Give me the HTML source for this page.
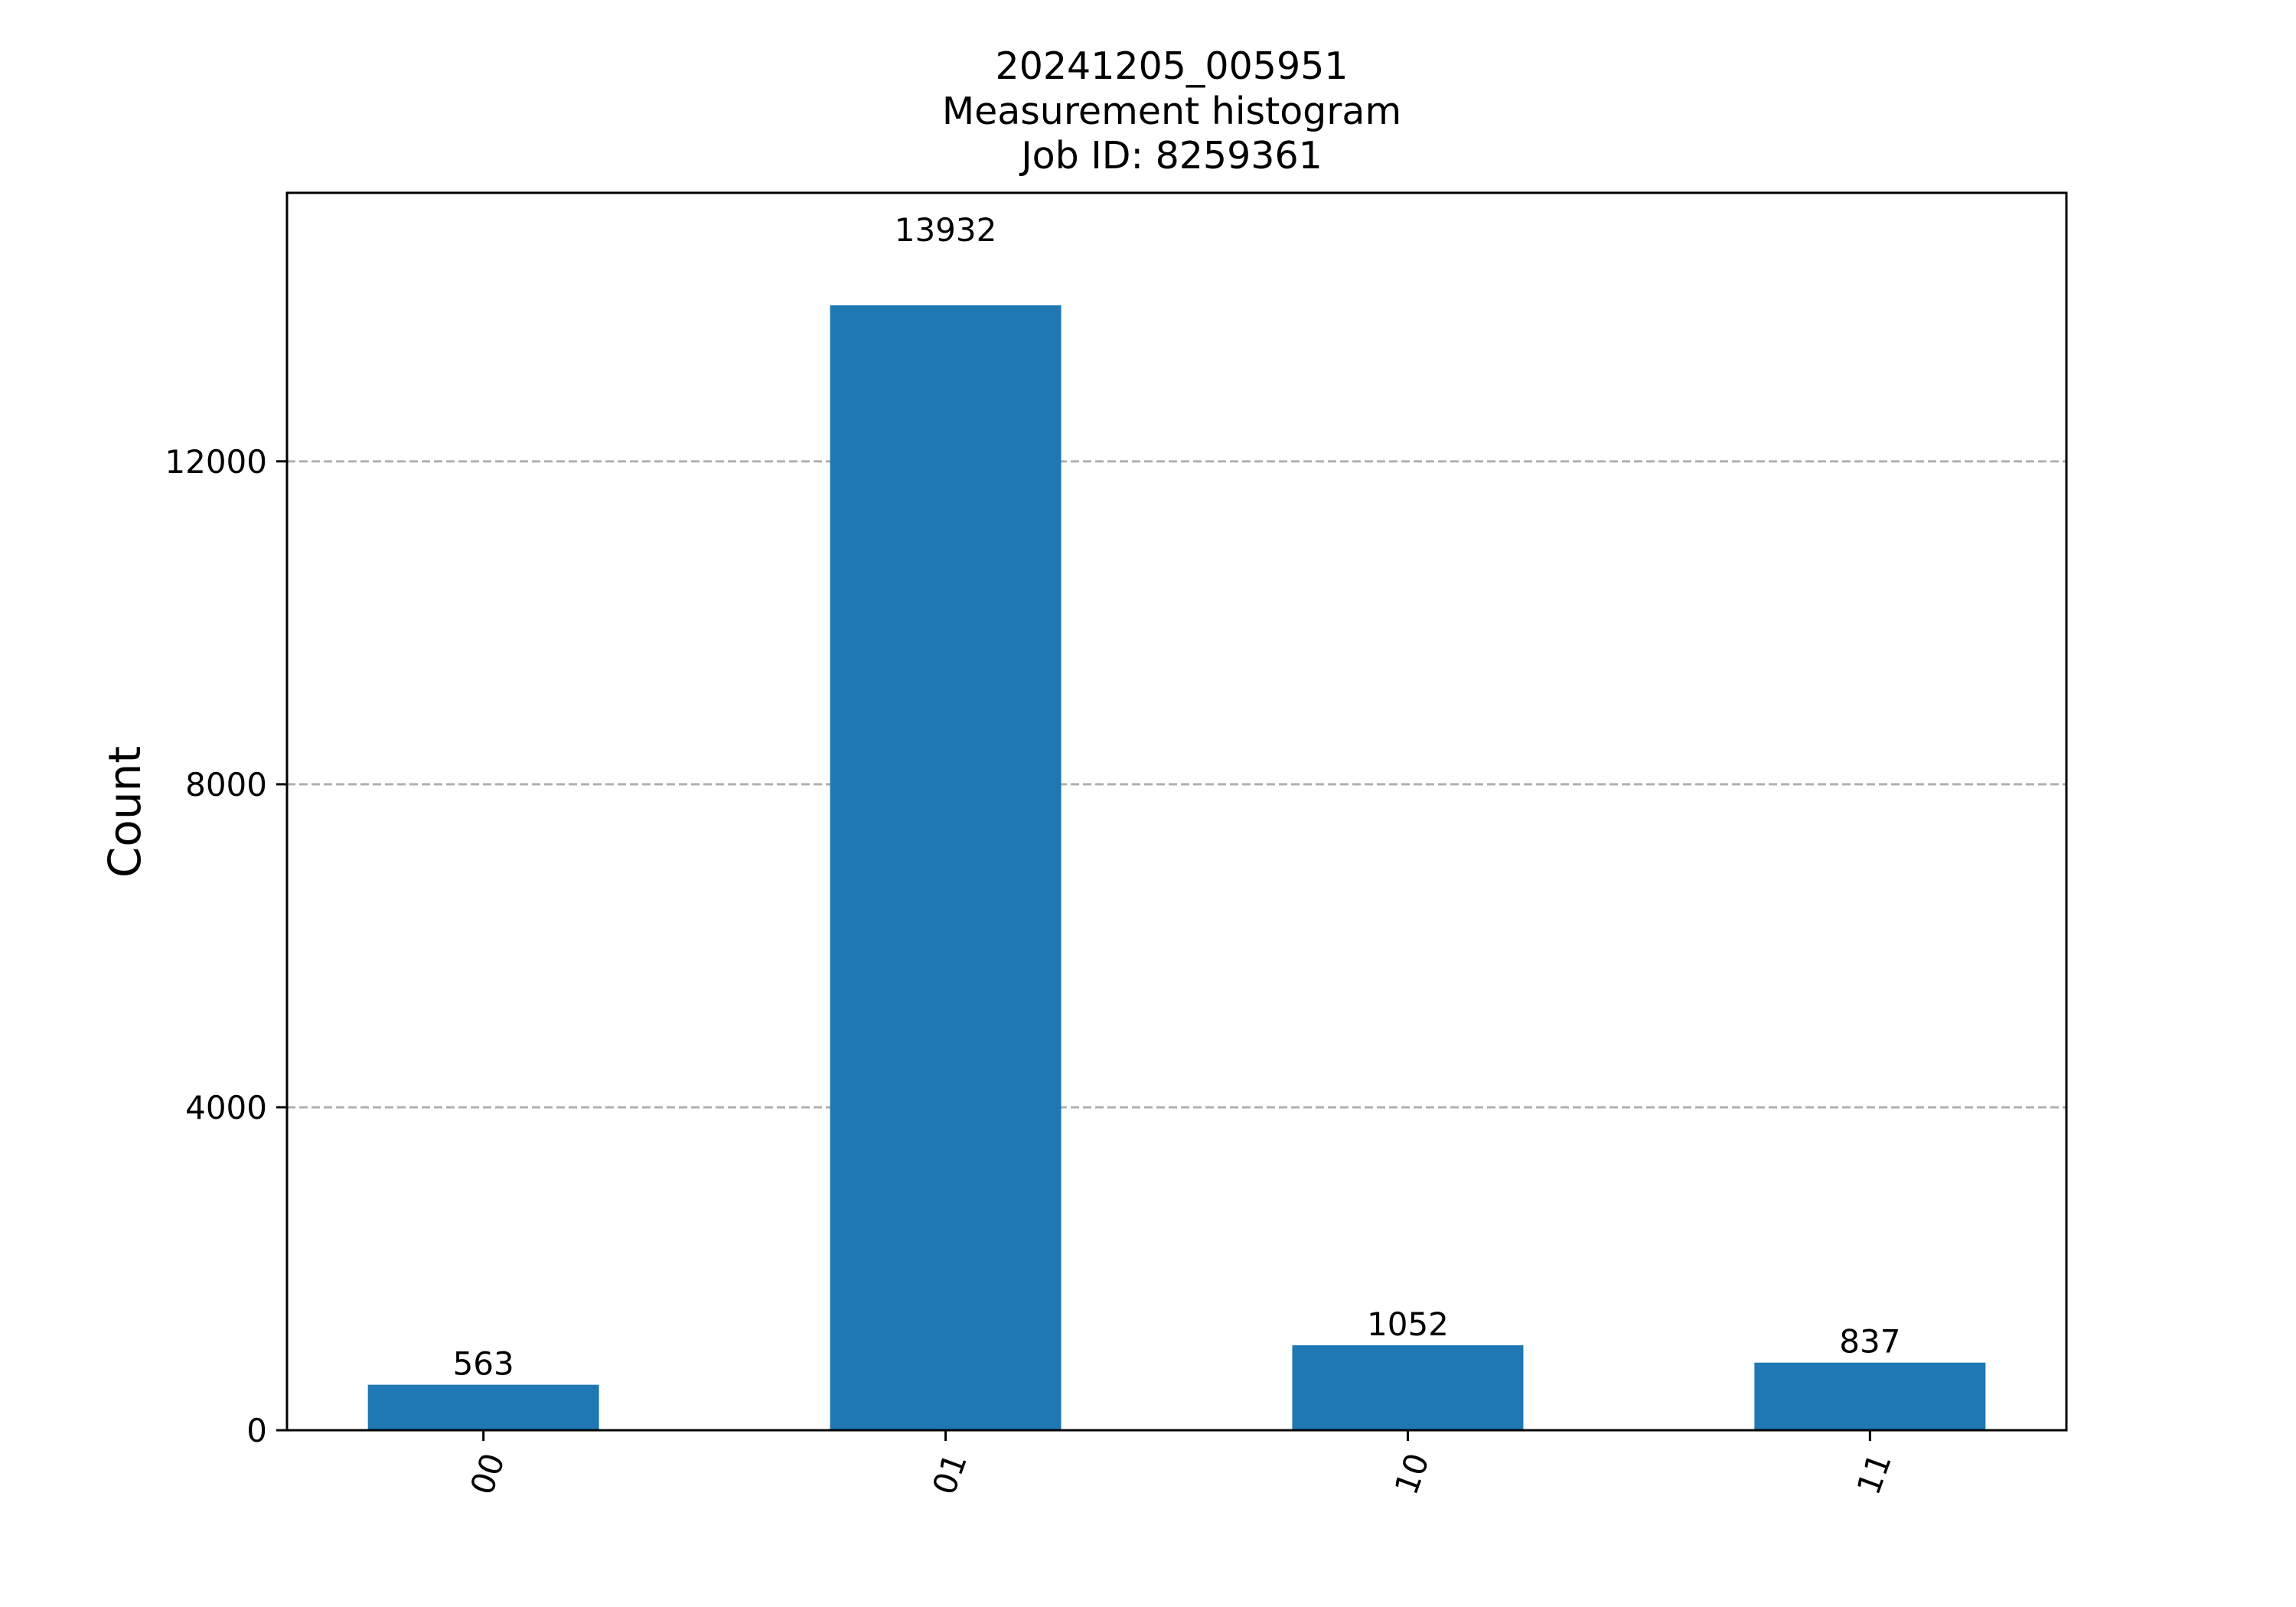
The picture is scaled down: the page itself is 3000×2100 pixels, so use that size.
<!DOCTYPE html>
<html><head><meta charset="utf-8"><style>
html,body{margin:0;padding:0;background:#fff;}
svg{display:block;}
text{font-family:"DejaVu Sans","Liberation Sans",sans-serif;fill:#000;}
</style></head><body>
<svg id="chart" width="3000" height="2100" viewBox="0 0 3000 2100" xmlns="http://www.w3.org/2000/svg">
<rect width="3000" height="2100" fill="#fff"/>
<g id="grid"></g>
<g id="bars"></g>
<g id="labels"></g>
<g id="axes"></g>
<text x="1531" y="103" font-size="49" text-anchor="middle">20241205_005951</text>
<text x="1531" y="162" font-size="49" text-anchor="middle">Measurement histogram</text>
<text x="1531" y="220" font-size="49" text-anchor="middle">Job ID: 8259361</text>
<text transform="translate(183,1061) rotate(-90)" font-size="58" text-anchor="middle">Count</text>
</svg>
<script>
const categories = ["00", "01", "10", "11"];
const counts = [563, 13932, 1052, 837];
const yTicks = [0, 4000, 8000, 12000];
const yTickLabels = ["0", "4000", "8000", "12000"];

const NS = "http://www.w3.org/2000/svg";
const L = 375, R = 2700, T = 252, B = 1869;
const maxV = Math.max(...counts);
const yMax = maxV * 1.1;
const xMin = -0.425, xMax = categories.length - 1 + 0.425;
function xs(i){ return L + (i - xMin) / (xMax - xMin) * (R - L); }
function ys(v){ return B - v / yMax * (B - T); }
function mk(tag, attrs, parent){
  const e = document.createElementNS(NS, tag);
  for (const k in attrs) e.setAttribute(k, attrs[k]);
  parent.appendChild(e);
  return e;
}
const grid = document.getElementById('grid');
const bars = document.getElementById('bars');
const labels = document.getElementById('labels');
const axes = document.getElementById('axes');

yTicks.forEach((t, i) => {
  const y = ys(t);
  if (t !== 0) {
    const g = mk('line', {x1: L, x2: R, y1: y, y2: y, stroke: '#b0b0b0', 'stroke-width': 3, 'stroke-dasharray': '11 5'}, grid);
    
    
  }
  const tk = mk('line', {x1: L - 14, x2: L, y1: y, y2: y, stroke: '#000', 'stroke-width': 3}, axes);
  
  
  const tl = mk('text', {x: L - 26, y: y + 15, 'font-size': 42, 'text-anchor': 'end'}, axes);
  tl.textContent = yTickLabels[i];
  
  
});

categories.forEach((c, i) => {
  const cx = xs(i);
  const w = 0.5 / (xMax - xMin) * (R - L);
  const r = mk('rect', {x: cx - w / 2, y: ys(counts[i]), width: w, height: B - ys(counts[i]), fill: '#1f77b4'}, bars);
  
  
  const off = counts[i] === maxV ? 84 : 13;
  const vl = mk('text', {x: cx, y: ys(counts[i]) - off, 'font-size': 42, 'text-anchor': 'middle'}, labels);
  vl.textContent = String(counts[i]);
  
  
  const tk = mk('line', {x1: cx, x2: cx, y1: B, y2: B + 14, stroke: '#000', 'stroke-width': 3}, axes);
  
  
  const xl = mk('text', {transform: 'translate(' + (cx + 19) + ',' + (B + 62) + ') rotate(-70)', 'font-size': 42, 'text-anchor': 'middle'}, axes);
  xl.textContent = c;
  
  
});

const frame = mk('rect', {x: L, y: T, width: R - L, height: B - T, fill: 'none', stroke: '#000', 'stroke-width': 3}, axes);


</script>
</body></html>
